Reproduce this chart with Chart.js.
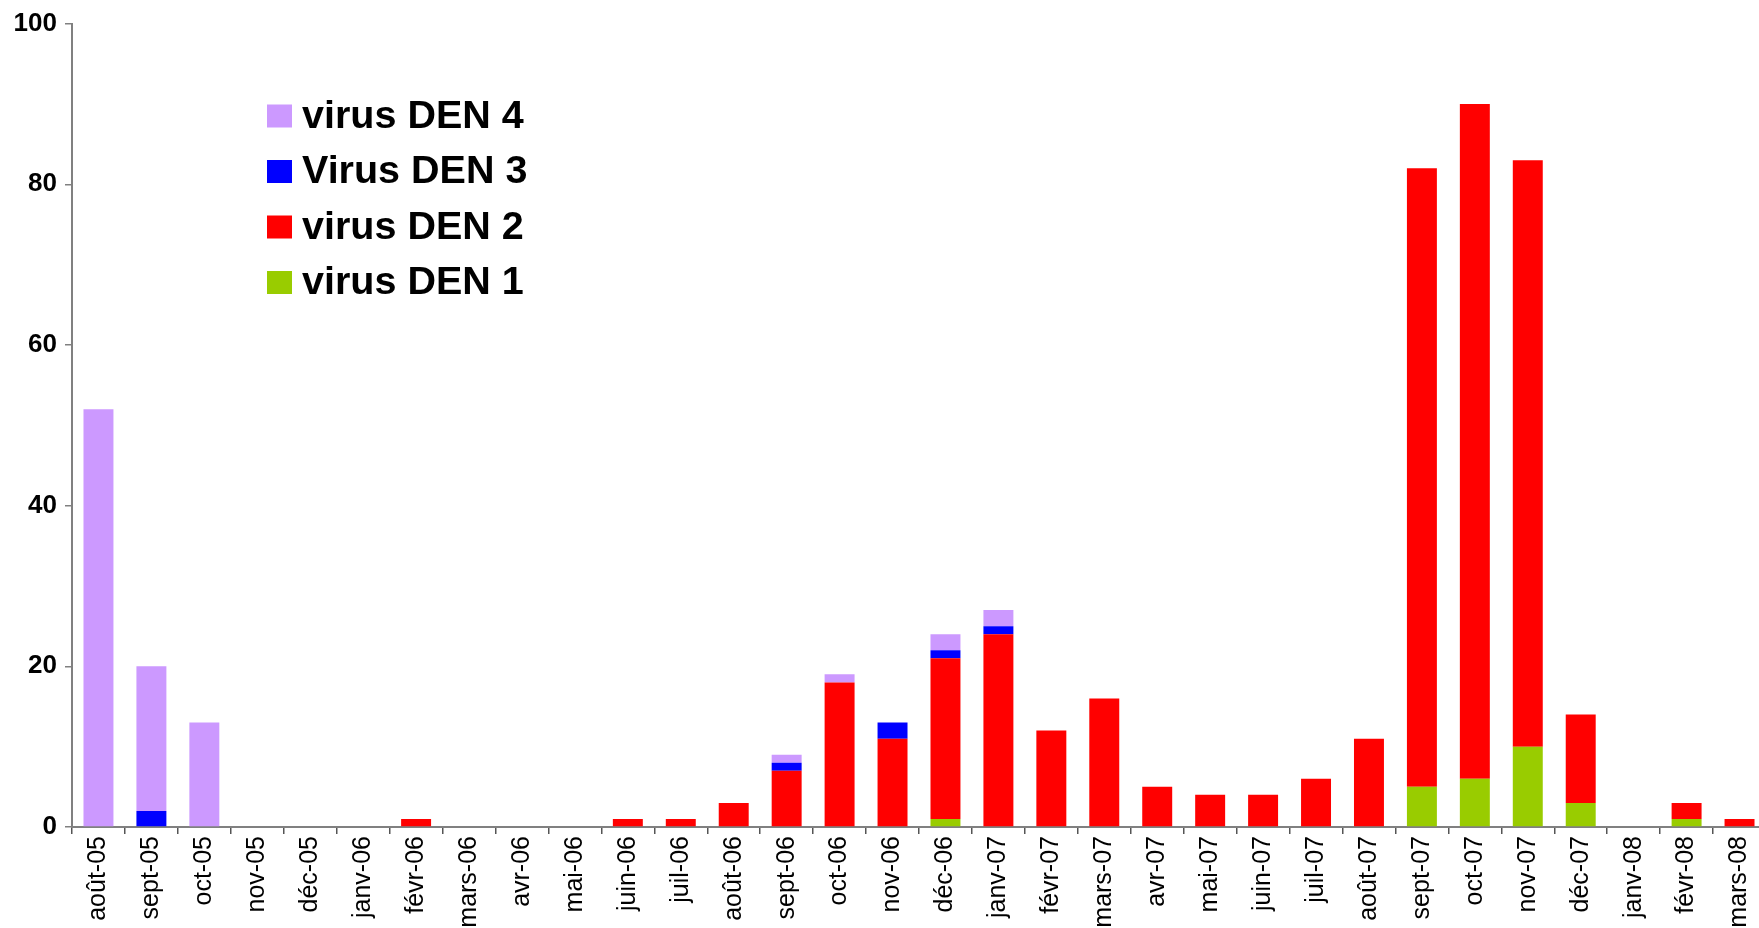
<!DOCTYPE html>
<html>
<head>
<meta charset="utf-8">
<script src="https://cdn.jsdelivr.net/npm/chart.js@4/dist/chart.umd.min.js"></script>
<style>
    html, body { margin: 0; padding: 0; background: #fff; overflow: hidden; }
    #wrap { position: absolute; left: 0; top: 0; width: 1759px; height: 928px; overflow: hidden; }
</style>
</head>
<body>
<div id="wrap"><canvas id="dengueChart" width="1775" height="928"></canvas></div>
<script>
// Months (x categories)
const months = ['août-05', 'sept-05', 'oct-05', 'nov-05', 'déc-05', 'janv-06', 'févr-06', 'mars-06',
    'avr-06', 'mai-06', 'juin-06', 'juil-06', 'août-06', 'sept-06', 'oct-06', 'nov-06',
    'déc-06', 'janv-07', 'févr-07', 'mars-07', 'avr-07', 'mai-07', 'juin-07', 'juil-07',
    'août-07', 'sept-07', 'oct-07', 'nov-07', 'déc-07', 'janv-08', 'févr-08', 'mars-08'];

// Cases per serotype (stacked bottom to top: DEN 1, DEN 2, DEN 3, DEN 4)
const den1 = [0, 0, 0, 0, 0, 0, 0, 0, 0, 0, 0, 0, 0, 0, 0, 0,
    1, 0, 0, 0, 0, 0, 0, 0, 0, 5, 6, 10, 3, 0, 1, 0];
const den2 = [0, 0, 0, 0, 0, 0, 1, 0, 0, 0, 1, 1, 3, 7, 18, 11,
    20, 24, 12, 16, 5, 4, 4, 6, 11, 77, 84, 73, 11, 0, 2, 1];
const den3 = [0, 2, 0, 0, 0, 0, 0, 0, 0, 0, 0, 0, 0, 1, 0, 2,
    1, 1, 0, 0, 0, 0, 0, 0, 0, 0, 0, 0, 0, 0, 0, 0];
const den4 = [52, 18, 13, 0, 0, 0, 0, 0, 0, 0, 0, 0, 0, 1, 1, 0,
    2, 2, 0, 0, 0, 0, 0, 0, 0, 0, 0, 0, 0, 0, 0, 0];

const yTicks = [0, 20, 40, 60, 80, 100];

const FONT = "'Liberation Sans', Arial, sans-serif";

// legend drawn inside the plot, top entry = last dataset
const insideLegend = {
    id: 'insideLegend',
    afterDraw(chart) {
        const ctx = chart.ctx;
        const sets = chart.data.datasets.slice().reverse();
        ctx.save();
        ctx.font = 'bold 39.5px ' + FONT;
        ctx.textBaseline = 'middle';
        ctx.textAlign = 'left';
        sets.forEach((ds, i) => {
            const cy = 116 + i * 55.5;
            ctx.fillStyle = ds.backgroundColor;
            ctx.fillRect(267, cy - 11.5, 25, 23);
            ctx.fillStyle = '#000';
            ctx.fillText(ds.label, 302, cy + 1);
        });
        ctx.restore();
    }
};

const ctx = document.getElementById('dengueChart').getContext('2d');
new Chart(ctx, {
    type: 'bar',
    data: {
        labels: months,
        datasets: [
            { label: 'virus DEN 1', data: den1, backgroundColor: '#99CC00' },
            { label: 'virus DEN 2', data: den2, backgroundColor: '#FF0000' },
            { label: 'Virus DEN 3', data: den3, backgroundColor: '#0000FF' },
            { label: 'virus DEN 4', data: den4, backgroundColor: '#CC99FF' }
        ]
    },
    options: {
        responsive: false,
        animation: false,
        barPercentage: 0.566,
        categoryPercentage: 1,
        layout: { padding: { left: 0, top: 22, right: 9, bottom: 0 } },
        plugins: {
            legend: { display: false },
            tooltip: { enabled: false }
        },
        scales: {
            x: {
                stacked: true,
                afterFit: s => { s.height = 101; },
                grid: { offset: true, drawOnChartArea: false, drawTicks: true, tickLength: 7, color: '#555', lineWidth: 1.5 },
                border: { color: '#808080', width: 2 },
                ticks: {
                    autoSkip: false, minRotation: 90, maxRotation: 90, padding: 2,
                    color: '#000', font: { family: FONT, size: 25 }
                }
            },
            y: {
                stacked: true,
                min: 0,
                max: 100,
                afterFit: s => { s.width = 72; },
                afterBuildTicks: s => { s.ticks = yTicks.map(v => ({ value: v })); },
                grid: { drawOnChartArea: false, drawTicks: true, tickLength: 7, color: '#808080', lineWidth: 1.5 },
                border: { color: '#808080', width: 2 },
                ticks: {
                    padding: 8, color: '#000',
                    font: { family: FONT, size: 26, weight: 'bold' }
                }
            }
        }
    },
    plugins: [insideLegend]
});
</script>
</body>
</html>
